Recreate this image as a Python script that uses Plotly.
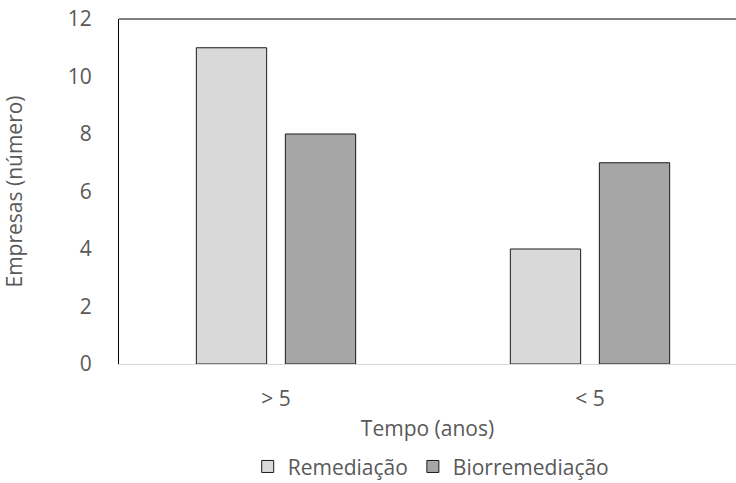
import plotly.graph_objects as go

categories = ["> 5", "< 5"]
remediacao = [11, 4]
biorremediacao = [8, 7]

font_family = "Open Sans, Noto Sans, sans-serif"
text_color = "#595959"
base_font = dict(family=font_family, size=21, color=text_color)

fig = go.Figure()
fig.add_trace(go.Bar(
    x=categories, y=remediacao, name="Remediação",
    marker=dict(color="#d9d9d9", line=dict(color="#1a1a1a", width=1)),
))
fig.add_trace(go.Bar(
    x=categories, y=biorremediacao, name="Biorremediação",
    marker=dict(color="#a6a6a6", line=dict(color="#1a1a1a", width=1)),
))

fig.update_layout(
    width=736, height=483,
    margin=dict(l=119, r=0, t=19, b=119, autoexpand=False),
    plot_bgcolor="white", paper_bgcolor="white",
    barmode="group", bargap=0.433, bargroupgap=0.21,
    font=base_font,
    showlegend=True,
    legend=dict(
        orientation="h", x=0.506, xanchor="center", y=-0.298, yanchor="middle",
        font=base_font, itemwidth=30, borderwidth=0,
    ),
    xaxis=dict(
        range=[-0.5, -0.5 + 617 / 314], automargin=False,
        showline=True, linecolor="#d9d9d9", linewidth=1,
        showgrid=False, ticks="", ticklabelstandoff=16, tickfont=base_font,
        title=dict(text="Tempo (anos)", standoff=10, font=base_font),
    ),
    yaxis=dict(
        range=[0, 12], dtick=2, automargin=False,
        showline=True, linecolor="#000000", linewidth=1, mirror=True,
        showgrid=False, zeroline=False, ticks="", ticklabelstandoff=22,
        tickfont=base_font,
        title=dict(text="Empresas (número)", standoff=40, font=base_font),
    ),
    shapes=[dict(type="line", xref="paper", yref="paper", x0=0, x1=1, y0=1, y1=1,
                 line=dict(color="#000000", width=1))],
)

fig.write_html("out.html")
